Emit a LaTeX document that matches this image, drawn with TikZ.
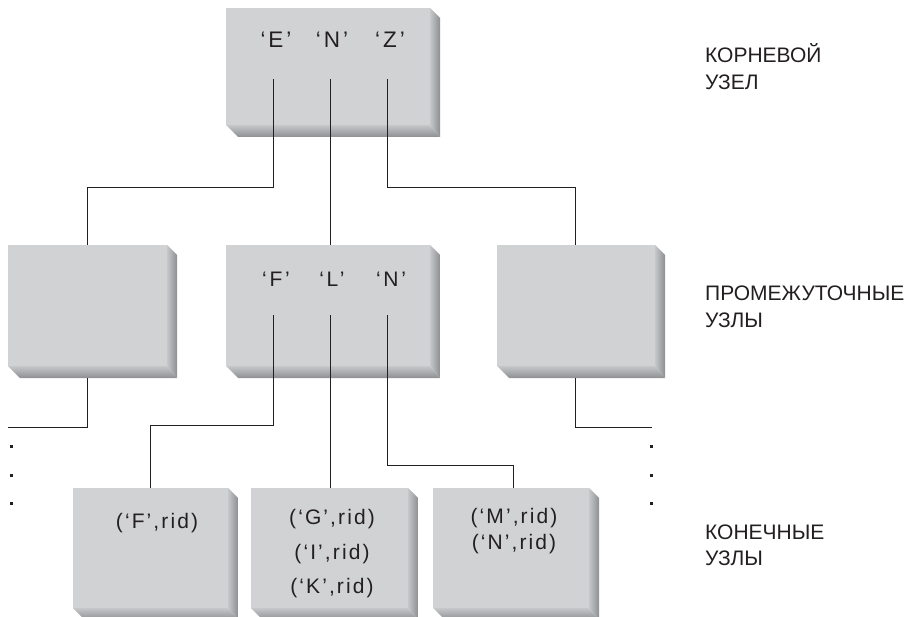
\documentclass[tikz,border=0pt]{standalone}
\usepackage{fontspec}
\setmainfont{Liberation Sans}
\newfontfamily\keyfont[LetterSpace=13]{Liberation Sans}
\newfontfamily\leaffont[LetterSpace=10]{Liberation Sans}
\definecolor{facecol}{HTML}{D1D2D4}
\definecolor{bevlight}{HTML}{C6C7C9}
\definecolor{bevdark}{HTML}{8E8F92}
\definecolor{inkcol}{HTML}{231F20}
\newcommand{\bevbox}[5]{%
  \fill[facecol] (#2,#3) rectangle (#4-10,#5-12);
  \shade[left color=bevlight,right color=bevdark] (#4-10,#3) -- (#4,#3+10) -- (#4,#5) -- (#4-10,#5-12) -- cycle;
  \shade[top color=bevlight,bottom color=bevdark] (#2,#5-12) -- (#4-10,#5-12) -- (#4,#5) -- (#2+12,#5) -- cycle;
  \coordinate (#1) at ({(#2+#4)/2},{(#3+#5)/2});
}
\begin{document}
\begin{tikzpicture}[x=1pt,y=-1pt,
  conn/.style={draw=inkcol,line width=0.9pt},
  txt/.style={font=\leaffont\fontsize{21}{26}\selectfont,text=inkcol,inner sep=0pt,anchor=base},
  keytxt/.style={font=\keyfont\fontsize{21}{26}\selectfont,text=inkcol,inner sep=0pt,anchor=base},
  bigtxt/.style={font=\keyfont\fontsize{22.5}{26}\selectfont,text=inkcol,inner sep=0pt,anchor=base},
  side/.style={font=\fontsize{21}{26}\selectfont,text=inkcol,inner sep=0pt,anchor=base west},
  dotmark/.style={rectangle,fill=inkcol,inner sep=0pt,minimum size=3pt}]
\useasboundingbox (0,0) rectangle (912,617);
% boxes
\bevbox{root}{226}{8}{440}{137}
\bevbox{midL}{8}{245}{177}{378}
\bevbox{midC}{226}{245}{440}{378}
\bevbox{midR}{497}{245}{665}{378}
\bevbox{leafA}{73}{488}{238}{620}
\bevbox{leafB}{251}{488}{418}{620}
\bevbox{leafC}{433}{488}{599}{620}
% root keys
\node[bigtxt] (rE) at (276,48) {‘E’};
\node[bigtxt] (rN) at (332,48) {‘N’};
\node[bigtxt] (rZ) at (390,48) {‘Z’};
% middle keys
\node[keytxt] (mF) at (276,287) {‘F’};
\node[keytxt] (mL) at (332,287) {‘L’};
\node[keytxt] (mN) at (391,287) {‘N’};
% leaf entries
\node[txt] (a1) at (157,528) {(‘F’,rid)};
\node[txt] (b1) at (332,524) {(‘G’,rid)};
\node[txt] (b2) at (332,559) {(‘I’,rid)};
\node[txt] (b3) at (332,593) {(‘K’,rid)};
\node[txt] (c1) at (514,523) {(‘M’,rid)};
\node[txt] (c2) at (514,549) {(‘N’,rid)};
% side labels
\node[side] (lr1) at (705,63) {КОРНЕВОЙ};
\node[side] (lr2) at (705,90) {УЗЕЛ};
\node[side] (lm1) at (705,301) {ПРОМЕЖУТОЧНЫЕ};
\node[side] (lm2) at (705,327) {УЗЛЫ};
\node[side] (ll1) at (705,539) {КОНЕЧНЫЕ};
\node[side] (ll2) at (705,565) {УЗЛЫ};
% connector anchor coordinates
\coordinate (rEs) at (273,79);
\coordinate (rNs) at (330,79);
\coordinate (rZs) at (387,79);
\coordinate (midLtop) at (87,245);
\coordinate (midCtop) at (330,245);
\coordinate (midRtop) at (575,245);
\coordinate (mFs) at (273,315);
\coordinate (mLs) at (330,315);
\coordinate (mNs) at (387,315);
\coordinate (leafAtop) at (150,488);
\coordinate (leafBtop) at (330,488);
\coordinate (leafCtop) at (513,488);
\coordinate (midLbot) at (87,378);
\coordinate (midRbot) at (575,378);
\coordinate (endL) at (8,427);
\coordinate (endR) at (652,427);
% connectors
\draw[conn] (rEs) -- ++(0,108) -| (midLtop);
\draw[conn] (rNs) -- (midCtop);
\draw[conn] (rZs) -- ++(0,108) -| (midRtop);
\draw[conn] (mFs) -- ++(0,110) -| (leafAtop);
\draw[conn] (mLs) -- (leafBtop);
\draw[conn] (mNs) -- ++(0,150) -| (leafCtop);
\draw[conn] (midLbot) |- (endL);
\draw[conn] (midRbot) |- (endR);
% continuation dots
\node[dotmark] (dl1) at (11,446) {};
\node[dotmark] (dl2) at (11,475) {};
\node[dotmark] (dl3) at (11,503) {};
\node[dotmark] (dr1) at (651,446) {};
\node[dotmark] (dr2) at (651,475) {};
\node[dotmark] (dr3) at (651,503) {};
\end{tikzpicture}
\end{document}
